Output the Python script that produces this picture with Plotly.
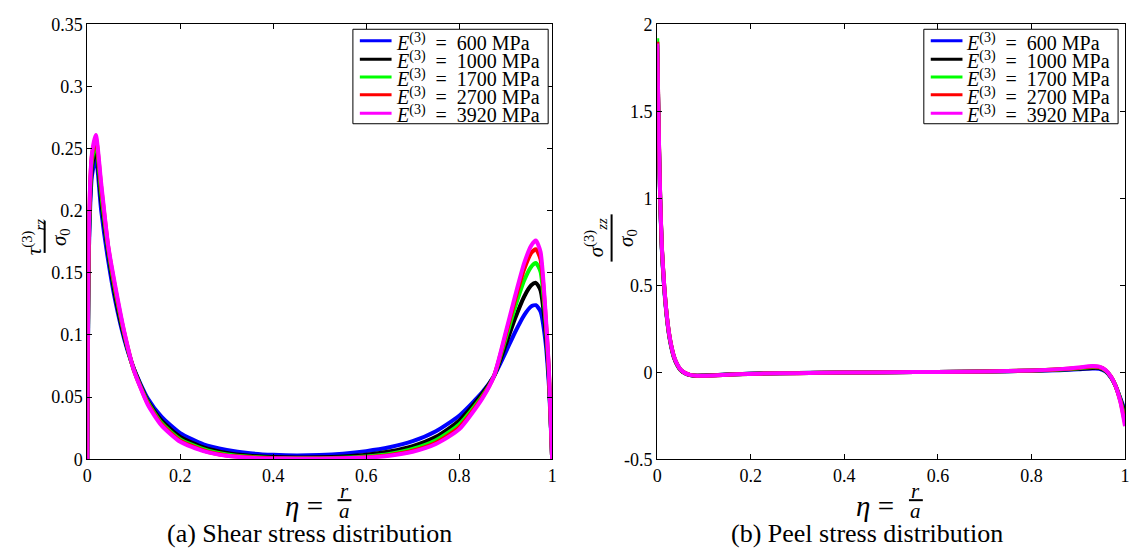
import plotly.graph_objects as go

W, H = 1133, 555
FONT = "Liberation Serif, Times New Roman, DejaVu Serif, serif"

series_names = ["600", "1000", "1700", "2700", "3920"]
colors = ["#0000FF", "#000000", "#00FF00", "#FF0000", "#FF00FF"]

# (a) Shear stress distribution
eta_a = [0, 0.004, 0.01, 0.0185, 0.03, 0.045, 0.06, 0.08, 0.1, 0.13, 0.16, 0.2, 0.25, 0.3,
         0.35, 0.4, 0.45, 0.5, 0.55, 0.6, 0.65, 0.7, 0.75, 0.8, 0.85, 0.875, 0.9, 0.92,
         0.94, 0.955, 0.965, 0.975, 0.985, 0.993, 1.0]
shear_600 = [0, 0.175, 0.228, 0.243, 0.200, 0.160, 0.128, 0.096, 0.073, 0.049, 0.034, 0.021, 0.012, 0.0075,
             0.0048, 0.0035, 0.003, 0.0034, 0.0045, 0.0065, 0.0096, 0.0145, 0.0225, 0.035, 0.054, 0.067, 0.086, 0.102,
             0.116, 0.123, 0.124, 0.119, 0.097, 0.060, 0]
shear_1000 = [0, 0.182, 0.235, 0.251, 0.208, 0.166, 0.132, 0.098, 0.073, 0.047, 0.031, 0.018, 0.0095, 0.005,
              0.0028, 0.0018, 0.0014, 0.0015, 0.0022, 0.0035, 0.0062, 0.0105, 0.018, 0.031, 0.053, 0.067, 0.092, 0.113,
              0.131, 0.140, 0.142, 0.136, 0.107, 0.065, 0]
shear_1700 = [0, 0.188, 0.240, 0.255, 0.214, 0.169, 0.136, 0.100, 0.072, 0.046, 0.029, 0.016, 0.008, 0.0038,
              0.0019, 0.001, 0.0007, 0.0008, 0.0012, 0.0022, 0.0043, 0.0082, 0.0152, 0.028, 0.051, 0.067, 0.097, 0.122,
              0.144, 0.155, 0.158, 0.151, 0.115, 0.069, 0]
shear_2700 = [0, 0.193, 0.244, 0.258, 0.219, 0.171, 0.138, 0.101, 0.072, 0.045, 0.028, 0.015, 0.007, 0.003,
              0.0015, 0.0007, 0.0005, 0.0005, 0.0008, 0.0016, 0.0033, 0.0068, 0.0133, 0.0255, 0.050, 0.067, 0.100, 0.128,
              0.153, 0.166, 0.169, 0.161, 0.120, 0.071, 0]
shear_3920 = [0, 0.196, 0.246, 0.261, 0.222, 0.172, 0.140, 0.102, 0.072, 0.044, 0.027, 0.014, 0.0065, 0.0027,
              0.0012, 0.0006, 0.0004, 0.0004, 0.0007, 0.0013, 0.0028, 0.006, 0.0122, 0.024, 0.049, 0.067, 0.102, 0.131,
              0.158, 0.172, 0.176, 0.167, 0.123, 0.073, 0]
shear = [shear_600, shear_1000, shear_1700, shear_2700, shear_3920]

# (b) Peel stress distribution
eta_b = [0, 0.002, 0.004, 0.0065, 0.01, 0.015, 0.02, 0.025, 0.03, 0.036, 0.043, 0.05, 0.06, 0.07,
         0.085, 0.1, 0.13, 0.17, 0.22, 0.3, 0.4, 0.5, 0.6, 0.7, 0.8, 0.86, 0.9, 0.93, 0.945,
         0.958, 0.97, 0.98, 0.99, 1.0]
peel_600 = [1.88, 1.55, 1.26, 0.98, 0.70, 0.48, 0.33, 0.22, 0.145, 0.083, 0.040, 0.012, -0.007, -0.016,
            -0.020, -0.019, -0.016, -0.011, -0.007, -0.004, -0.002, 0.0, 0.002, 0.004, 0.008, 0.012, 0.017, 0.021, 0.020,
            0.005, -0.030, -0.080, -0.150, -0.220]
peel_1000 = [1.90, 1.57, 1.28, 0.99, 0.71, 0.49, 0.335, 0.225, 0.150, 0.086, 0.042, 0.013, -0.006, -0.016,
             -0.020, -0.019, -0.016, -0.011, -0.007, -0.004, -0.002, 0.0, 0.002, 0.004, 0.009, 0.014, 0.020, 0.025, 0.024,
             0.008, -0.028, -0.080, -0.155, -0.240]
peel_1700 = [1.92, 1.58, 1.29, 1.00, 0.715, 0.495, 0.338, 0.228, 0.152, 0.088, 0.043, 0.014, -0.006, -0.015,
             -0.020, -0.020, -0.017, -0.012, -0.008, -0.005, -0.002, 0.0, 0.002, 0.005, 0.010, 0.016, 0.023, 0.030, 0.028,
             0.011, -0.026, -0.080, -0.160, -0.270]
peel_2700 = [1.90, 1.59, 1.30, 1.00, 0.718, 0.498, 0.340, 0.230, 0.154, 0.089, 0.044, 0.015, -0.005, -0.015,
             -0.020, -0.020, -0.017, -0.012, -0.008, -0.005, -0.002, 0.0, 0.002, 0.005, 0.010, 0.017, 0.025, 0.033, 0.030,
             0.013, -0.025, -0.080, -0.165, -0.290]
peel_3920 = [1.89, 1.60, 1.30, 1.00, 0.720, 0.500, 0.340, 0.230, 0.155, 0.090, 0.045, 0.015, -0.005, -0.015,
             -0.020, -0.020, -0.017, -0.012, -0.008, -0.005, -0.002, 0.0, 0.002, 0.005, 0.010, 0.018, 0.027, 0.036, 0.032,
             0.014, -0.025, -0.080, -0.170, -0.310]
peel = [peel_600, peel_1000, peel_1700, peel_2700, peel_3920]

xticks = [0, 0.2, 0.4, 0.6, 0.8, 1]
xticklabels = ["0", "0.2", "0.4", "0.6", "0.8", "1"]
yticks_a = [0, 0.05, 0.1, 0.15, 0.2, 0.25, 0.3, 0.35]
yticklabels_a = ["0", "0.05", "0.1", "0.15", "0.2", "0.25", "0.3", "0.35"]
yticks_b = [-0.5, 0, 0.5, 1, 1.5, 2]
yticklabels_b = ["-0.5", "0", "0.5", "1", "1.5", "2"]

captions = ["(a) Shear stress distribution", "(b) Peel stress distribution"]


def px(x):
    return x / W


def py(y):
    return 1 - y / H


fig = go.Figure()
for name, col, ys in zip(series_names, colors, shear):
    fig.add_trace(go.Scatter(x=eta_a, y=ys, mode="lines", name=f"E(3) = {name} MPa",
                             line=dict(color=col, width=4, shape="spline", smoothing=0.6),
                             xaxis="x", yaxis="y", showlegend=False))
for name, col, ys in zip(series_names, colors, peel):
    fig.add_trace(go.Scatter(x=eta_b, y=ys, mode="lines", name=f"E(3) = {name} MPa",
                             line=dict(color=col, width=4, shape="spline", smoothing=0.6),
                             xaxis="x2", yaxis="y2", showlegend=False))

axis_common = dict(showline=True, linecolor="black", linewidth=1, mirror="ticks", ticks="inside",
                   ticklen=5, tickcolor="black", showgrid=False, zeroline=False,
                   tickfont=dict(family=FONT, size=18, color="black"))

L0, L1 = 83, 552
R0, R1 = 658, 1130
T, B = 15, 466

fig.update_layout(
    width=W, height=H, margin=dict(l=0, r=0, t=0, b=0),
    paper_bgcolor="white", plot_bgcolor="white",
    font=dict(family=FONT, color="black"),
    xaxis=dict(domain=[px(L0), px(L1)], range=[0, 1], tickvals=xticks, ticktext=xticklabels,
               anchor="y", **axis_common),
    yaxis=dict(domain=[py(B), py(T)], range=[0, 0.35], tickvals=yticks_a, ticktext=yticklabels_a,
               anchor="x", **axis_common),
    xaxis2=dict(domain=[px(R0), px(R1)], range=[0, 1], tickvals=xticks, ticktext=xticklabels,
                anchor="y2", **axis_common),
    yaxis2=dict(domain=[py(B), py(T)], range=[-0.5, 2], tickvals=yticks_b, ticktext=yticklabels_b,
                anchor="x2", **axis_common),
    showlegend=False,
)

annotations = []
shapes = []


def ann(text, x, y, size, angle=0, xanchor="center"):
    annotations.append(dict(text=text, x=px(x), y=py(y), xref="paper", yref="paper",
                            showarrow=False, textangle=angle, xanchor=xanchor, yanchor="middle",
                            font=dict(family=FONT, size=size, color="black")))


def seg(x0, y0, x1, y1, w=2, color="black"):
    shapes.append(dict(type="line", xref="paper", yref="paper", x0=px(x0), x1=px(x1),
                       y0=py(y0), y1=py(y1), line=dict(color=color, width=w)))


# legends drawn in paper space (one box per panel)
row_y = [32, 51, 69.5, 88, 107]
for bx0, bx1 in [(351, 548), (927, 1123)]:
    shapes.append(dict(type="rect", xref="paper", yref="paper", x0=px(bx0), x1=px(bx1),
                       y0=py(118), y1=py(20), line=dict(color="black", width=1), fillcolor="white",
                       layer="above"))
    for name, col, ry in zip(series_names, colors, row_y):
        seg(bx0 + 7, ry, bx0 + 39, ry, w=3, color=col)
        ann(f"<i>E</i><sup>(3)</sup>&nbsp;&nbsp;=&nbsp;&nbsp;{name}&nbsp;MPa", bx0 + 41, ry + 1, 20,
            xanchor="left")

# y-axis fraction labels
ann("<i>τ</i><sup>(3)</sup><sub><i>rz</i></sub>", 29, 236, 21, angle=-90)
seg(40, 219, 40, 252)
ann("<i>σ</i><sub>0</sub>", 56, 236, 21, angle=-90)

ann("<i>σ</i><sup>(3)</sup><sub><i>zz</i></sub>", 596, 236, 21, angle=-90)
seg(612, 212, 612, 261)
ann("<i>σ</i><sub>0</sub>", 628, 236, 21, angle=-90)

# x-axis fraction labels
for cx in [(L0 + L1) / 2, (R0 + R1) / 2]:
    ann("<i>η</i>&nbsp;=&nbsp;", cx + 12, 515, 29, xanchor="right")
    ann("<i>r</i>", cx + 25, 499, 21)
    seg(cx + 18, 508.5, cx + 32, 508.5)
    ann("<i>a</i>", cx + 25, 520, 21)

ann(captions[0], 307, 543, 26)
ann(captions[1], 870, 543, 26)

fig.update_layout(annotations=annotations, shapes=shapes)
fig.write_html("out.html")
